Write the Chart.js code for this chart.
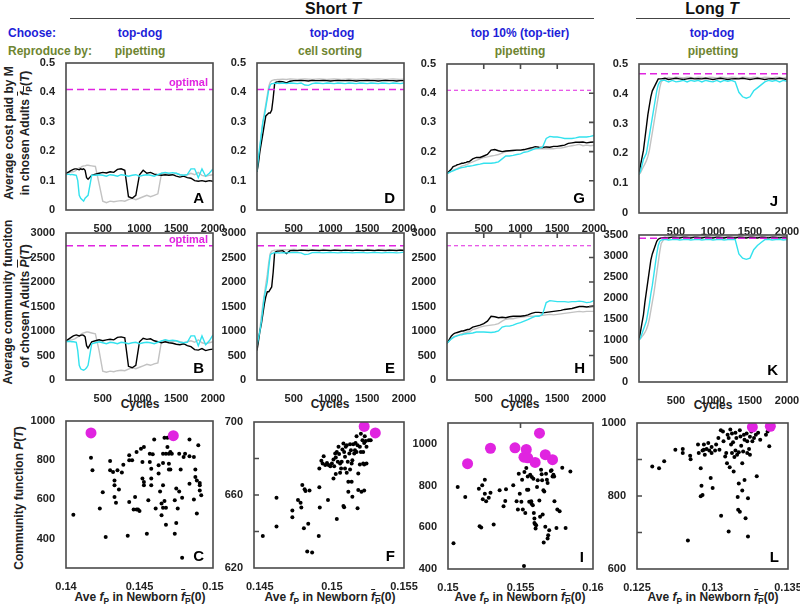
<!DOCTYPE html>
<html><head><meta charset="utf-8">
<script src="https://cdn.jsdelivr.net/npm/chart.js@4.4.1/dist/chart.umd.min.js"></script>
<style>
body{margin:0;background:#fff;}
#root{position:relative;width:800px;height:605px;overflow:hidden;font-family:"Liberation Sans",Arial,sans-serif;font-weight:bold;color:#222;font-size:12px;}
.t{position:absolute;white-space:nowrap;transform:translate(-50%,-50%);}
.l{position:absolute;white-space:nowrap;transform:translateY(-50%);}
.r{position:absolute;white-space:nowrap;transform:translate(-50%,-50%) rotate(-90deg);}
.hl{position:absolute;height:0;border-top:1.6px solid #444;}
canvas{position:absolute;}
sub{font-size:0.7em;vertical-align:-0.3em;line-height:0;}
.ov{text-decoration:overline;}
.blue{color:#1e1ed8;} .olive{color:#6e8531;}
</style></head>
<body>
<div id="root">
  <div class="t" style="left:333px;top:9px;font-size:16px;color:#111">Short <i>T</i></div>
  <div class="hl" style="left:70px;top:18px;width:524px"></div>
  <div class="t" style="left:712px;top:9px;font-size:16px;color:#111">Long <i>T</i></div>
  <div class="hl" style="left:636px;top:18px;width:154px"></div>

  <div class="l blue" style="left:8px;top:33px">Choose:</div>
  <div class="l olive" style="left:8px;top:51px">Reproduce by:</div>
  <div class="t blue" style="left:140px;top:33px">top-dog</div>
  <div class="t olive" style="left:140px;top:51px">pipetting</div>
  <div class="t blue" style="left:332px;top:33px">top-dog</div>
  <div class="t olive" style="left:330px;top:51px">cell sorting</div>
  <div class="t blue" style="left:520px;top:33px">top 10% (top-tier)</div>
  <div class="t olive" style="left:520px;top:51px">pipetting</div>
  <div class="t blue" style="left:712px;top:33px">top-dog</div>
  <div class="t olive" style="left:713px;top:51px">pipetting</div>

  <div class="r" style="left:9px;top:133px">Average cost paid by M</div>
  <div class="r" style="left:25px;top:133px">in chosen Adults <span class="ov"><i>f</i><sub>P</sub></span>(<i>T</i>)</div>
  <div class="r" style="left:8px;top:302px">Average community funciton</div>
  <div class="r" style="left:25px;top:306px">of chosen Adults <span class="ov"><i>P</i></span>(<i>T</i>)</div>
  <div class="r" style="left:19px;top:498px">Community function <i>P</i>(<i>T</i>)</div>

  <div class="t" style="left:140px;top:404px">Cycles</div>
  <div class="t" style="left:330px;top:404px">Cycles</div>
  <div class="t" style="left:520px;top:404px">Cycles</div>
  <div class="t" style="left:713px;top:405px">Cycles</div>

  <div class="t" style="left:140px;top:597px">Ave <i>f</i><sub>P</sub> in Newborn <span class="ov"><i>f</i><sub>P</sub></span>(0)</div>
  <div class="t" style="left:330px;top:597px">Ave <i>f</i><sub>P</sub> in Newborn <span class="ov"><i>f</i><sub>P</sub></span>(0)</div>
  <div class="t" style="left:520px;top:597px">Ave <i>f</i><sub>P</sub> in Newborn <span class="ov"><i>f</i><sub>P</sub></span>(0)</div>
  <div class="t" style="left:713px;top:597px">Ave <i>f</i><sub>P</sub> in Newborn <span class="ov"><i>f</i><sub>P</sub></span>(0)</div>
</div>
<script>
// ---------------- DATA ----------------
const cycles = [0,20,40,60,80,100,120,140,160,180,
  200,220,240,260,280,300,350,400,450,500,
  550,600,650,700,750,800,850,900,950,1000,
  1050,1100,1150,1200,1250,1300,1350,1400,1450,1500,
  1550,1600,1650,1700,1750,1800,1850,1900,1950,2000];

const optFpShort = 0.41, optPShort = 2740, optFpLong = 0.467, optPLong = 3420;

const aBlack = [0.125,0.127,0.13,0.133,0.136,0.138,0.14,0.14,0.138,0.137,
  0.14,0.138,0.14,0.135,0.11,0.105,0.118,0.122,0.125,0.128,
  0.126,0.13,0.128,0.138,0.14,0.135,0.045,0.04,0.05,0.12,
  0.135,0.125,0.128,0.122,0.12,0.118,0.12,0.118,0.12,0.115,
  0.112,0.115,0.11,0.108,0.1,0.098,0.1,0.097,0.1,0.098];
const aGray = [0.125,0.126,0.127,0.128,0.13,0.13,0.132,0.135,0.14,0.143,
  0.145,0.148,0.15,0.15,0.152,0.152,0.15,0.148,0.09,0.03,
  0.025,0.03,0.028,0.03,0.032,0.03,0.035,0.04,0.035,0.04,
  0.045,0.05,0.045,0.05,0.055,0.125,0.125,0.122,0.12,0.125,
  0.12,0.118,0.12,0.125,0.12,0.128,0.118,0.115,0.118,0.12];
const aCyan = [0.12,0.121,0.122,0.12,0.121,0.12,0.119,0.118,0.1,0.05,
  0.04,0.035,0.03,0.04,0.045,0.05,0.118,0.118,0.12,0.118,
  0.115,0.12,0.118,0.115,0.12,0.118,0.115,0.118,0.12,0.115,
  0.118,0.12,0.118,0.115,0.12,0.125,0.128,0.125,0.127,0.125,
  0.12,0.118,0.12,0.14,0.14,0.11,0.14,0.115,0.125,0.14];

const bBlack = [800,820,840,860,880,900,910,920,910,900,
  910,920,910,880,700,650,780,800,820,800,
  820,830,820,870,880,860,280,250,300,780,
  850,830,840,800,780,760,780,760,750,730,
  720,740,700,680,620,610,640,600,620,630];
const bGray = [800,805,810,815,820,830,840,860,880,900,
  930,950,960,970,980,980,960,940,600,180,
  160,180,170,190,200,190,220,250,230,260,
  290,320,300,330,350,800,810,790,780,800,
  780,760,780,800,770,820,760,740,760,780];
const bCyan = [780,785,790,785,780,780,775,770,600,300,
  230,210,200,220,250,300,740,760,780,760,
  740,770,760,740,770,760,740,760,770,740,
  760,770,760,740,770,800,820,800,810,800,
  770,760,770,900,900,700,900,720,800,920];

const dBlack = [0.13,0.16,0.2,0.23,0.26,0.29,0.32,0.325,0.33,0.33,
  0.34,0.38,0.43,0.435,0.436,0.437,0.436,0.432,0.438,0.44,
  0.44,0.441,0.44,0.439,0.441,0.44,0.44,0.441,0.44,0.439,
  0.44,0.441,0.44,0.44,0.441,0.44,0.439,0.44,0.44,0.441,
  0.44,0.44,0.439,0.44,0.441,0.44,0.44,0.439,0.44,0.44];
const dGray = [0.13,0.17,0.21,0.26,0.3,0.33,0.36,0.39,0.42,0.435,
  0.44,0.442,0.443,0.443,0.444,0.444,0.445,0.444,0.446,0.445,
  0.444,0.445,0.446,0.445,0.444,0.445,0.446,0.445,0.444,0.445,
  0.446,0.445,0.444,0.445,0.446,0.445,0.444,0.445,0.446,0.445,
  0.444,0.445,0.446,0.445,0.444,0.445,0.446,0.445,0.444,0.445];
const dCyan = [0.13,0.18,0.22,0.26,0.3,0.32,0.35,0.38,0.41,0.425,
  0.43,0.43,0.432,0.43,0.432,0.43,0.432,0.43,0.432,0.431,
  0.43,0.432,0.425,0.424,0.43,0.432,0.431,0.43,0.432,0.431,
  0.43,0.432,0.431,0.43,0.432,0.431,0.43,0.432,0.431,0.43,
  0.432,0.431,0.43,0.432,0.431,0.43,0.432,0.431,0.43,0.432];

const eBlack = [600,800,1000,1150,1350,1550,1700,1800,1800,1850,
  1900,2200,2600,2620,2630,2630,2640,2580,2640,2645,
  2640,2650,2645,2640,2650,2645,2640,2650,2645,2640,
  2650,2645,2640,2650,2645,2640,2650,2645,2640,2650,
  2645,2640,2650,2645,2640,2650,2645,2640,2650,2645];
const eGray = [650,850,1050,1300,1550,1750,1950,2150,2400,2580,
  2630,2640,2650,2650,2655,2655,2660,2655,2660,2665,
  2660,2655,2660,2665,2660,2655,2660,2665,2660,2655,
  2660,2665,2660,2655,2660,2665,2660,2655,2660,2665,
  2660,2655,2660,2665,2660,2655,2660,2665,2660,2655];
const eCyan = [700,850,1000,1200,1450,1700,1850,2000,2300,2550,
  2580,2590,2600,2590,2600,2590,2600,2595,2600,2605,
  2600,2595,2560,2570,2600,2605,2600,2595,2600,2605,
  2600,2595,2600,2605,2600,2595,2600,2605,2600,2595,
  2600,2605,2600,2595,2600,2605,2600,2595,2600,2610];

const gBlack = [0.125,0.13,0.135,0.14,0.148,0.15,0.152,0.155,0.156,0.158,
  0.16,0.16,0.162,0.163,0.165,0.165,0.175,0.18,0.18,0.185,
  0.19,0.205,0.207,0.203,0.2,0.202,0.203,0.204,0.205,0.205,
  0.207,0.21,0.213,0.217,0.215,0.214,0.216,0.215,0.218,0.218,
  0.22,0.222,0.228,0.23,0.232,0.232,0.233,0.23,0.232,0.233];
const gGray = [0.125,0.127,0.13,0.132,0.135,0.138,0.14,0.142,0.145,0.147,
  0.15,0.152,0.153,0.155,0.157,0.16,0.165,0.17,0.175,0.18,
  0.182,0.185,0.187,0.19,0.195,0.2,0.203,0.205,0.205,0.205,
  0.206,0.207,0.208,0.21,0.21,0.21,0.21,0.21,0.21,0.212,
  0.212,0.215,0.218,0.22,0.222,0.225,0.22,0.222,0.22,0.222];
const gCyan = [0.125,0.127,0.13,0.132,0.134,0.136,0.138,0.14,0.142,0.144,
  0.145,0.146,0.147,0.148,0.15,0.15,0.152,0.155,0.157,0.16,
  0.16,0.16,0.162,0.165,0.175,0.185,0.185,0.187,0.19,0.192,
  0.198,0.2,0.205,0.21,0.212,0.215,0.245,0.252,0.25,0.25,
  0.248,0.245,0.245,0.245,0.247,0.25,0.25,0.25,0.252,0.255];

const hBlack = [750,800,850,900,930,950,960,970,980,990,
  1000,1000,1010,1020,1030,1030,1080,1100,1120,1150,
  1200,1300,1290,1270,1280,1270,1290,1300,1300,1300,
  1310,1330,1360,1380,1380,1370,1380,1390,1400,1410,
  1420,1440,1450,1460,1480,1500,1500,1490,1500,1510];
const hGray = [750,780,810,840,870,890,900,910,920,930,
  940,950,960,970,980,980,1030,1050,1080,1100,
  1110,1120,1130,1150,1200,1240,1250,1250,1270,1280,
  1290,1300,1300,1300,1310,1320,1330,1340,1330,1340,
  1350,1360,1370,1380,1390,1400,1390,1400,1400,1400];
const hCyan = [750,780,810,840,860,880,890,900,910,920,
  920,930,940,945,950,950,960,980,980,980,
  975,970,980,1000,1080,1100,1100,1120,1150,1170,
  1200,1230,1270,1300,1300,1340,1580,1620,1610,1600,
  1600,1600,1590,1600,1600,1610,1600,1580,1590,1620];

const jBlack = [0.13,0.16,0.185,0.21,0.25,0.29,0.33,0.36,0.39,0.41,
  0.42,0.43,0.44,0.45,0.45,0.45,0.452,0.448,0.45,0.452,
  0.45,0.448,0.45,0.452,0.45,0.451,0.45,0.452,0.45,0.448,
  0.45,0.452,0.45,0.448,0.45,0.451,0.45,0.452,0.45,0.448,
  0.45,0.452,0.45,0.448,0.45,0.451,0.45,0.452,0.45,0.448];
const jGray = [0.13,0.135,0.145,0.155,0.165,0.175,0.19,0.21,0.24,0.27,
  0.3,0.33,0.36,0.39,0.42,0.44,0.452,0.455,0.453,0.456,
  0.455,0.453,0.456,0.455,0.453,0.456,0.455,0.453,0.456,0.455,
  0.453,0.456,0.455,0.453,0.456,0.455,0.453,0.456,0.455,0.453,
  0.456,0.455,0.453,0.456,0.455,0.453,0.456,0.455,0.453,0.456];
const jCyan = [0.13,0.14,0.16,0.18,0.19,0.2,0.23,0.26,0.29,0.32,
  0.35,0.38,0.41,0.43,0.44,0.445,0.445,0.44,0.445,0.44,
  0.442,0.445,0.44,0.445,0.442,0.445,0.44,0.445,0.442,0.44,
  0.445,0.44,0.445,0.442,0.445,0.44,0.405,0.39,0.385,0.39,
  0.41,0.42,0.43,0.44,0.445,0.442,0.445,0.44,0.445,0.442];

const kBlack = [1000,1200,1400,1600,1900,2150,2400,2650,2900,3050,
  3150,3250,3350,3400,3420,3430,3440,3430,3450,3440,
  3430,3450,3440,3430,3450,3440,3430,3450,3440,3430,
  3450,3440,3430,3450,3440,3430,3450,3440,3430,3450,
  3440,3430,3450,3440,3430,3450,3440,3430,3450,3440];
const kGray = [1000,1030,1080,1120,1180,1250,1350,1500,1700,1900,
  2100,2350,2600,2850,3100,3300,3440,3460,3450,3470,
  3460,3450,3470,3460,3450,3470,3460,3450,3470,3460,
  3450,3470,3460,3450,3470,3460,3450,3470,3460,3450,
  3470,3460,3450,3470,3460,3450,3470,3460,3450,3470];
const kCyan = [1000,1050,1150,1250,1350,1450,1650,1850,2100,2300,
  2550,2800,3050,3250,3350,3380,3400,3380,3390,3400,
  3380,3390,3400,3380,3390,3400,3380,3390,3400,3380,
  3390,3400,3380,3390,3400,3390,3050,2950,2920,2950,
  3150,3250,3320,3390,3400,3380,3390,3400,3380,3390];

// scatter panels
const cX = [0.1405,0.1417,0.1418,0.1423,0.1425,0.1427,0.143,0.143,0.1432,0.1433,0.1433,0.1433,0.1434,0.1435,0.1436,0.1438,0.1439,0.1443,0.1443,0.1443,0.1442,0.1445,0.1447,0.1446,0.1448,0.1449,0.145,0.1448,0.1451,0.1453,0.1452,0.1453,0.1453,0.1452,0.1455,0.1456,0.1457,0.1457,0.1458,0.1458,0.1459,0.1458,0.146,0.1461,0.1463,0.1463,0.1464,0.1465,0.1465,0.1466,0.1466,0.1466,0.1466,0.1467,0.1467,0.1468,0.1468,0.1468,0.1469,0.1469,0.147,0.147,0.147,0.1471,0.1471,0.1472,0.1474,0.1474,0.1475,0.1475,0.1476,0.1477,0.1477,0.1478,0.1479,0.1479,0.148,0.1481,0.1484,0.1484,0.1484,0.1487,0.1487,0.1488,0.1488,0.1489,0.1489,0.149,0.1491,0.1491,0.1492,0.1491];
const cY = [522,812,749,553,636,408,796,749,740,697,672,612,583,749,650,737,777,800,825,587,415,800,612,548,548,548,541,842,859,867,706,689,672,791,425,596,833,791,706,672,830,757,905,553,732,774,640,519,579,672,786,833,558,915,592,471,558,833,915,867,753,833,782,753,842,833,425,596,479,655,553,833,640,753,609,302,816,833,820,680,905,816,600,714,753,528,697,876,684,646,621,672];
const cTopX = [0.1417,0.1473];
const cTopY = [939,925];

const fX = [0.14521,0.14616,0.14616,0.14726,0.14726,0.14765,0.14783,0.14788,0.14795,0.14811,0.14817,0.14806,0.14829,0.14863,0.14836,0.14845,0.14909,0.14913,0.14916,0.14913,0.14927,0.14936,0.14943,0.14954,0.14966,0.14973,0.14977,0.14989,0.15,0.15011,0.15011,0.15016,0.15023,0.15027,0.15027,0.15034,0.15034,0.15041,0.15046,0.1505,0.15057,0.15057,0.15064,0.15068,0.15073,0.1508,0.1508,0.15085,0.15085,0.15091,0.15091,0.15096,0.15103,0.15103,0.1511,0.15114,0.15114,0.15121,0.15126,0.15126,0.15132,0.15137,0.15137,0.15142,0.15142,0.15148,0.15155,0.1516,0.15164,0.15171,0.15171,0.15178,0.15183,0.15183,0.15194,0.15201,0.15205,0.15212,0.15217,0.15224,0.15228,0.15235,0.15178,0.15194,0.15201,0.15217,0.1524,0.15256,0.15269,0.15224,0.15224,0.1524];
const fY = [637.6,658.5,642.7,651.5,647.8,657.3,655.8,653.1,665.5,663.1,662.2,641.8,629.1,628.5,644.2,662.4,637.6,664.2,653.1,674.5,678.7,677.3,681.3,676.4,677.6,657.3,676.4,675.8,677.3,679.5,669.1,675.8,682.7,671.5,680.5,683.6,646.9,678.2,686.4,682.4,677.3,672.2,674.5,678.2,684.9,688.2,654.0,653.3,683.6,680.9,674.5,686.4,687.3,672.2,678.2,667.3,661.8,682.7,687.8,674.0,684.5,667.3,677.3,679.1,659.1,687.8,682.7,684.5,688.5,692.2,683.6,687.3,662.7,671.8,686.4,693.6,661.8,690.0,677.3,688.5,692.2,689.6,652.7,676.7,683.6,683.6,677.3,690.0,690.0,662.4,676.7,686.4];
const fTopX = [0.15224,0.15301];
const fTopY = [697.6,694.0];

const iX = [0.15038,0.15067,0.15119,0.15213,0.15218,0.15229,0.15236,0.1524,0.15254,0.15254,0.15263,0.15281,0.15293,0.15315,0.15356,0.15383,0.15395,0.154,0.1545,0.15473,0.15482,0.15488,0.15495,0.15506,0.15511,0.15516,0.15524,0.15527,0.15533,0.1554,0.15545,0.1555,0.15554,0.1556,0.15567,0.15574,0.15576,0.15578,0.15585,0.15589,0.15592,0.15596,0.15596,0.15601,0.15604,0.15608,0.15614,0.15619,0.1563,0.15635,0.15642,0.15646,0.15649,0.15653,0.15658,0.1566,0.15664,0.15671,0.15676,0.15682,0.15687,0.15687,0.15691,0.15698,0.15709,0.15714,0.15721,0.15727,0.15732,0.15734,0.15748,0.15754,0.1577,0.15788,0.15811,0.15844];
const iY = [523,793,745,785,605,599,801,734,828,761,725,742,765,613,777,701,726,782,801,725,685,857,761,722,828,685,414,865,669,884,780,844,780,722,852,725,713,841,706,833,669,642,621,615,594,610,793,825,729,650,876,854,825,661,777,527,772,602,857,828,812,546,562,586,870,873,844,852,844,725,597,685,677,885,597,868];
const iTopX = [0.15135,0.15293,0.15462,0.1554,0.15524,0.1555,0.15601,0.15631,0.15671,0.15721];
const iTopY = [905,979,981,973,936,933,911,1051,948,924];

const lX = [0.12601,0.12646,0.1268,0.12754,0.12803,0.12803,0.12855,0.12852,0.12837,0.12904,0.12909,0.12922,0.12927,0.12922,0.12934,0.12934,0.12943,0.12943,0.12949,0.12961,0.12972,0.12979,0.12988,0.12994,0.13001,0.12994,0.13017,0.13024,0.13039,0.13046,0.13057,0.13055,0.13069,0.13073,0.13084,0.13091,0.13096,0.131,0.13107,0.13107,0.13114,0.13118,0.13123,0.13129,0.13129,0.13136,0.1314,0.13145,0.13152,0.13152,0.13158,0.13163,0.13167,0.1317,0.13174,0.13174,0.13181,0.13181,0.13185,0.1319,0.13197,0.13197,0.13203,0.13208,0.13212,0.13212,0.13219,0.13226,0.1323,0.1323,0.13235,0.13235,0.13242,0.13248,0.13248,0.13257,0.13264,0.13275,0.13287,0.13293,0.13302,0.13316,0.13354,0.13376,0.13365];
const lY = [881,876,895,927,918,929,901,910,678,941,918,876,828,799,803,925,927,941,913,929,945,925,849,934,822,918,925,941,959,927,746,980,977,950,908,918,890,968,959,703,879,982,941,918,971,947,867,907,973,925,959,913,797,762,834,920,980,757,963,938,890,815,922,968,954,844,739,971,950,918,794,689,929,962,913,977,950,959,968,854,973,954,968,936,977];
const lTopX = [0.13264,0.13383];
const lTopY = [989,991];

// tick values
const tsXTicks = [500,1000,1500,2000];
const fpYTicks = [0,0.1,0.2,0.3,0.4,0.5];
const pYTicks = [0,500,1000,1500,2000,2500,3000];
const pYTicksLong = [0,500,1000,1500,2000,2500,3000,3500];
const cXTicks = [0.14,0.145,0.15], cYTicks = [400,600,800,1000];
const fXTicks = [0.145,0.15,0.155], fYTicks = [620,640,660,680,700];
const fYLabels = ['620','','660','','700'];
const iXTicks = [0.15,0.155,0.16], iYTicks = [400,600,800,1000];
const lXTicks = [0.125,0.13,0.135], lYTicks = [600,700,800,900,1000];
const lYLabels = ['600','','800','','1000'];

// ---------------- DRAWING ----------------
const BLACK = '#000000', GRAY = '#c2c2c2', CYAN = '#33e2ee', MAG = '#e024e0';
const FONT = '"Liberation Sans", Arial, sans-serif';
Chart.defaults.font.family = FONT;
Chart.defaults.font.weight = 'bold';
Chart.defaults.font.size = 11;
Chart.defaults.color = '#222';

const pts = (xs, ys) => xs.map((x, i) => ({x: x, y: ys[i]}));

function lineSet(ys, color) {
  return {data: pts(cycles, ys), showLine: true, borderColor: color, borderWidth: 1.4,
          pointRadius: 0, tension: 0, fill: false};
}
function optSet(v, dash, w) {
  return {data: [{x: 0, y: v}, {x: 2000, y: v}], showLine: true, borderColor: MAG,
          borderWidth: w, borderDash: dash, pointRadius: 0};
}
function dotSet(xs, ys, color, r) {
  return {data: pts(xs, ys), showLine: false, pointRadius: r, pointBackgroundColor: color,
          pointBorderWidth: 0, borderColor: color};
}

const framePlugin = {
  id: 'frame',
  afterDatasetsDraw(chart, args, o) {
    const ctx = chart.ctx, a = chart.chartArea, sx = chart.scales.x, sy = chart.scales.y;
    ctx.save();
    ctx.strokeStyle = '#4a4a4a';
    ctx.lineWidth = 1.6;
    const L = 5;
    ctx.beginPath();
    const tk = o.ticks || {};
    sx.ticks.forEach(t => {
      const x = sx.getPixelForValue(t.value);
      if (x <= a.left + 1 || x >= a.right - 1) return;
      if (tk.top) { ctx.moveTo(x, a.top); ctx.lineTo(x, a.top + L); }
      if (tk.bottom) { ctx.moveTo(x, a.bottom); ctx.lineTo(x, a.bottom - L); }
    });
    sy.ticks.forEach(t => {
      const y = sy.getPixelForValue(t.value);
      if (y <= a.top + 1 || y >= a.bottom - 1) return;
      if (tk.left) { ctx.moveTo(a.left, y); ctx.lineTo(a.left + L, y); }
      if (tk.right) { ctx.moveTo(a.right, y); ctx.lineTo(a.right - L, y); }
    });
    ctx.stroke();
    ctx.strokeRect(a.left, a.top, a.right - a.left, a.bottom - a.top);
    if (o.letter) {
      ctx.fillStyle = '#000';
      ctx.font = 'bold 15px ' + FONT;
      ctx.textAlign = 'right';
      ctx.textBaseline = 'alphabetic';
      ctx.fillText(o.letter, a.right - 9, a.bottom - 7);
    }
    if (o.optimal != null) {
      const y = sy.getPixelForValue(o.optimal);
      ctx.fillStyle = MAG;
      ctx.font = 'bold 11px ' + FONT;
      ctx.textAlign = 'right';
      ctx.textBaseline = 'alphabetic';
      ctx.fillText('optimal', a.right - 5, y - 3);
    }
    ctx.restore();
  }
};

const root = document.getElementById('root');
function makeChart(p) {
  const [l, t, r, b] = p.rect;
  const YW = 50, PT = 10, XH = 22, PR = 18;
  const cv = document.createElement('canvas');
  cv.width = (r - l) + YW + PR;
  cv.height = (b - t) + PT + XH;
  cv.style.left = (l - YW) + 'px';
  cv.style.top = (t - PT) + 'px';
  root.appendChild(cv);
  const xl = p.xLabels, yl = p.yLabels;
  new Chart(cv.getContext('2d'), {
    type: 'scatter',
    data: {datasets: p.datasets},
    options: {
      responsive: false, animation: false, devicePixelRatio: 1,
      layout: {padding: {left: 0, top: PT, right: PR, bottom: 0}, autoPadding: false},
      plugins: {legend: {display: false}, tooltip: {enabled: false},
                frame: {letter: p.letter, optimal: p.optLabel, ticks: p.ticks}},
      scales: {
        x: {type: 'linear', min: p.x[0], max: p.x[1], grid: {display: false}, border: {display: false},
            ticks: {padding: 4, maxRotation: 0, autoSkip: false,
                    callback: (v, i) => xl ? xl[i] : String(v)},
            afterBuildTicks: s => { s.ticks = p.xTicks.map(v => ({value: v})); },
            afterFit: s => { s.height = XH; s.paddingLeft = 0; s.paddingRight = 0; }},
        y: {type: 'linear', min: p.y[0], max: p.y[1], grid: {display: false}, border: {display: false},
            ticks: {padding: 3, autoSkip: false,
                    callback: (v, i) => yl ? yl[i] : String(v)},
            afterBuildTicks: s => { s.ticks = p.yTicks.map(v => ({value: v})); },
            afterFit: s => { s.width = YW; s.paddingTop = 0; s.paddingBottom = 0; }}
      }
    },
    plugins: [framePlugin]
  });
}

const dashS = [7, 4], dashG = [4, 3];
const panels = [
  {rect: [66, 63, 213, 210], x: [0, 2000], y: [0, 0.5], xTicks: tsXTicks, yTicks: fpYTicks, letter: 'A', optLabel: optFpShort,
   datasets: [optSet(optFpShort, dashS, 1.5), lineSet(aCyan, CYAN), lineSet(aBlack, BLACK), lineSet(aGray, GRAY)]},
  {rect: [257, 63, 404, 210], x: [0, 2000], y: [0, 0.5], xTicks: tsXTicks, yTicks: fpYTicks, letter: 'D',
   datasets: [optSet(optFpShort, dashS, 1.5), lineSet(dCyan, CYAN), lineSet(dBlack, BLACK), lineSet(dGray, GRAY)]},
  {rect: [447, 64, 594, 210], x: [0, 2000], y: [0, 0.5], xTicks: tsXTicks, yTicks: fpYTicks, letter: 'G', ticks: {top: true, right: true},
   datasets: [optSet(optFpShort, dashG, 1.1), lineSet(gCyan, CYAN), lineSet(gBlack, BLACK), lineSet(gGray, GRAY)]},
  {rect: [639, 64, 787, 213], x: [0, 2000], y: [0, 0.5], xTicks: tsXTicks, yTicks: fpYTicks, letter: 'J',
   datasets: [optSet(optFpLong, dashS, 1.5), lineSet(jCyan, CYAN), lineSet(jBlack, BLACK), lineSet(jGray, GRAY)]},

  {rect: [66, 233, 213, 380], x: [0, 2000], y: [0, 3000], xTicks: tsXTicks, yTicks: pYTicks, letter: 'B', optLabel: optPShort,
   datasets: [optSet(optPShort, dashS, 1.5), lineSet(bCyan, CYAN), lineSet(bBlack, BLACK), lineSet(bGray, GRAY)]},
  {rect: [257, 233, 404, 380], x: [0, 2000], y: [0, 3000], xTicks: tsXTicks, yTicks: pYTicks, letter: 'E',
   datasets: [optSet(optPShort, dashS, 1.5), lineSet(eCyan, CYAN), lineSet(eBlack, BLACK), lineSet(eGray, GRAY)]},
  {rect: [447, 233, 594, 380], x: [0, 2000], y: [0, 3000], xTicks: tsXTicks, yTicks: pYTicks, letter: 'H', ticks: {top: true, right: true},
   datasets: [optSet(optPShort, dashG, 1.1), lineSet(hCyan, CYAN), lineSet(hBlack, BLACK), lineSet(hGray, GRAY)]},
  {rect: [639, 235, 787, 382], x: [0, 2000], y: [0, 3500], xTicks: tsXTicks, yTicks: pYTicksLong, letter: 'K',
   datasets: [optSet(optPLong, dashS, 1.5), lineSet(kCyan, CYAN), lineSet(kBlack, BLACK), lineSet(kGray, GRAY)]},

  {rect: [66, 421, 213, 568], x: [0.14, 0.15], y: [250, 1000], xTicks: cXTicks, yTicks: cYTicks, letter: 'C',
   datasets: [dotSet(cTopX, cTopY, MAG, 5.5), dotSet(cX, cY, BLACK, 2)]},
  {rect: [254, 422, 404, 568], x: [0.1446, 0.155], y: [620, 700], xTicks: fXTicks, yTicks: fYTicks, yLabels: fYLabels, letter: 'F', ticks: {left: true},
   datasets: [dotSet(fTopX, fTopY, MAG, 5.5), dotSet(fX, fY, BLACK, 2)]},
  {rect: [448, 423, 593, 569], x: [0.15, 0.16], y: [400, 1100], xTicks: iXTicks, yTicks: iYTicks, letter: 'I', ticks: {top: true},
   datasets: [dotSet(iTopX, iTopY, MAG, 5.5), dotSet(iX, iY, BLACK, 2)]},
  {rect: [637, 423, 788, 569], x: [0.125, 0.135], y: [600, 1000], xTicks: lXTicks, yTicks: lYTicks, yLabels: lYLabels, letter: 'L', ticks: {left: true},
   datasets: [dotSet(lTopX, lTopY, MAG, 5.5), dotSet(lX, lY, BLACK, 2)]}
];
panels.forEach(makeChart);
</script>
</body></html>
